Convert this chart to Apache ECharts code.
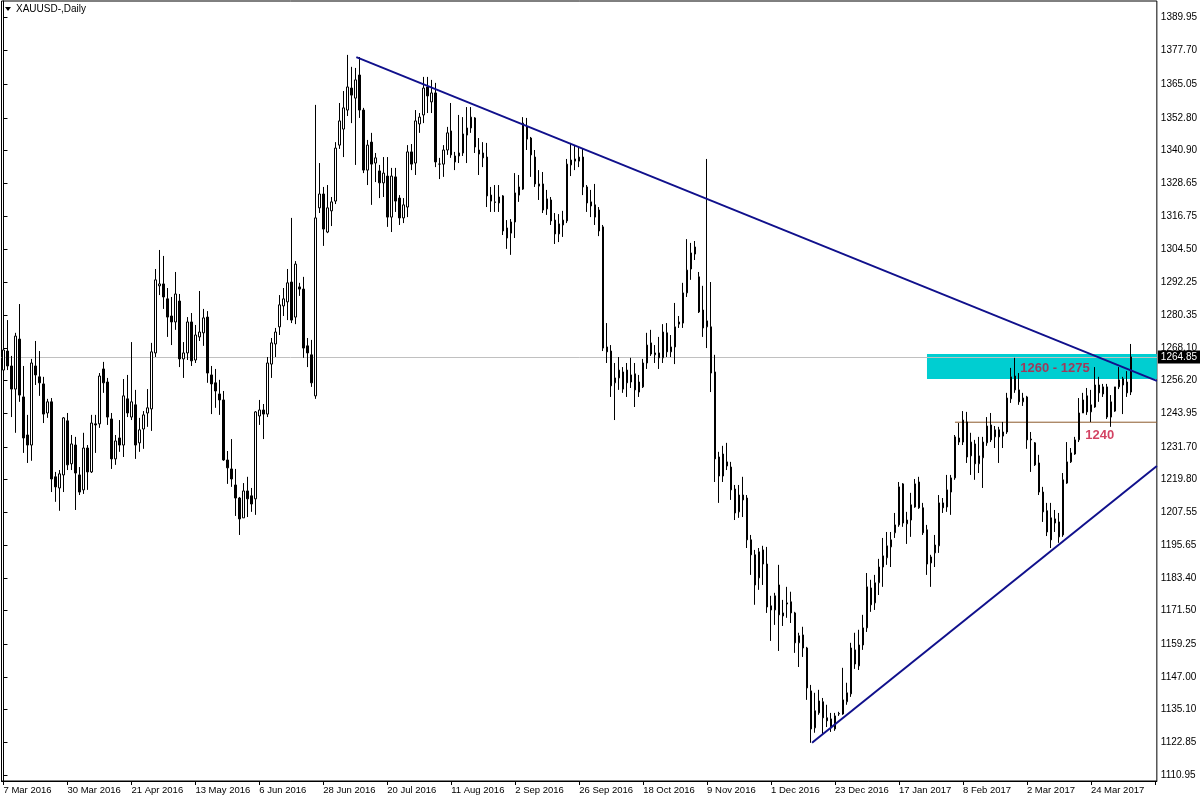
<!DOCTYPE html>
<html><head><meta charset="utf-8">
<script src="https://cdn.jsdelivr.net/npm/echarts@6/dist/echarts.min.js"></script>
<style>html,body{margin:0;padding:0;background:#fff}#c{width:1200px;height:800px}</style>
</head><body><div id="c"></div>
<script>
// ---- data (XAUUSD daily, 283 bars) ----
const opens=[1260.0,1267.0,1261.5,1253.0,1271.4,1250.1,1236.1,1232.4,1261.5,1257.5,
1254.9,1244.2,1248.3,1220.7,1216.6,1221.4,1241.3,1225.5,1232.4,1221.4,
1215.9,1231.3,1222.5,1240.2,1240.2,1260.4,1255.6,1242.0,1227.3,1235.0,
1232.4,1249.4,1242.7,1247.2,1233.2,1238.3,1244.2,1245.7,1266.3,1291.0,
1291.7,1286.2,1279.9,1277.7,1285.4,1264.1,1266.3,1277.7,1263.7,1272.2,
1273.7,1279.5,1258.2,1255.3,1251.2,1249.0,1226.9,1223.6,1217.7,1212.9,
1205.6,1215.5,1213.7,1212.6,1243.1,1245.3,1243.8,1262.2,1269.6,1275.9,
1283.6,1285.1,1292.4,1279.5,1290.6,1289.8,1268.9,1265.6,1250.5,1319.7,
1324.8,1310.8,1318.6,1322.2,1342.8,1348.7,1355.7,1363.8,1360.1,1368.6,
1355.7,1333.6,1343.9,1336.2,1333.3,1328.9,1331.4,1316.3,1331.1,1323.3,
1316.0,1320.0,1340.3,1336.2,1350.6,1353.9,1364.2,1358.7,1362.0,1335.8,
1335.8,1341.0,1348.0,1338.8,1338.8,1339.9,1346.5,1349.1,1352.8,1341.0,
1339.9,1338.4,1324.4,1321.9,1321.5,1324.1,1312.3,1310.4,1314.5,1324.4,
1326.6,1349.5,1345.4,1338.4,1328.5,1328.5,1319.3,1322.6,1315.2,1310.1,
1313.4,1314.9,1335.5,1336.9,1336.9,1338.4,1327.4,1321.9,1320.8,1318.9,
1312.7,1268.5,1267.0,1255.3,1257.1,1259.3,1260.0,1255.6,1258.6,1251.9,
1253.8,1262.6,1270.0,1265.6,1266.3,1264.5,1273.7,1266.7,1268.5,1276.9,
1277.3,1288.4,1297.2,1302.7,1294.3,1282.1,1275.9,1275.9,1259.3,1228.0,
1221.0,1226.2,1224.3,1216.2,1207.8,1214.0,1212.9,1197.5,1192.0,1183.5,
1193.8,1188.6,1173.2,1171.7,1180.9,1170.6,1174.3,1174.7,1170.6,1159.6,
1162.5,1157.7,1141.9,1128.3,1133.8,1137.9,1132.0,1131.6,1127.9,1133.4,
1133.4,1137.9,1140.8,1157.0,1151.1,1158.8,1165.1,1179.8,1174.3,1181.7,
1187.5,1190.9,1194.9,1200.1,1203.0,1218.1,1203.4,1204.8,1209.6,1218.8,
1209.3,1201.2,1189.0,1192.7,1195.3,1211.1,1209.6,1215.1,1220.3,1235.0,
1233.5,1240.9,1228.4,1232.8,1225.5,1227.7,1233.2,1239.8,1235.4,1238.0,
1235.7,1237.2,1249.4,1257.8,1252.7,1248.3,1250.1,1234.6,1233.2,1225.8,
1215.1,1208.2,1205.6,1205.2,1204.1,1199.3,1218.4,1226.2,1229.1,1234.3,
1244.2,1250.5,1244.6,1246.4,1254.5,1251.2,1253.8,1242.7,1244.9,1253.8,
1254.5,1255.6,1251.9];
const closes=[1267.4,1261.5,1253.0,1272.5,1250.8,1235.0,1232.4,1262.6,1258.2,1255.3,
1243.8,1248.3,1219.9,1217.0,1221.8,1242.4,1225.1,1232.8,1222.1,1215.1,
1231.3,1222.5,1240.5,1239.8,1257.8,1255.3,1242.7,1227.3,1233.9,1232.4,
1250.5,1244.2,1248.3,1232.4,1238.0,1243.5,1246.1,1266.7,1293.2,1291.7,
1286.9,1279.5,1277.7,1288.0,1264.1,1266.3,1277.7,1263.4,1272.9,1274.0,
1279.2,1258.9,1254.9,1252.3,1249.0,1226.9,1224.0,1219.9,1212.9,1205.2,
1215.5,1212.6,1210.7,1244.6,1245.3,1243.8,1262.6,1270.0,1274.0,1284.0,
1286.2,1292.1,1278.4,1299.0,1289.8,1268.1,1266.3,1255.3,1316.0,1324.8,
1311.9,1319.7,1321.9,1341.7,1351.7,1356.5,1364.2,1361.2,1366.8,1355.7,
1333.6,1342.8,1335.8,1338.1,1328.9,1332.5,1316.3,1331.4,1322.2,1316.0,
1320.8,1340.3,1335.8,1351.7,1353.1,1363.8,1360.9,1362.0,1336.6,1335.8,
1341.0,1347.3,1339.2,1336.6,1339.9,1346.9,1349.1,1353.1,1342.1,1339.5,
1338.1,1324.1,1322.2,1321.7,1323.7,1311.2,1308.6,1314.5,1325.2,1327.4,
1350.9,1345.0,1339.2,1328.5,1327.7,1318.9,1323.0,1314.9,1310.1,1313.8,
1315.2,1335.8,1337.3,1337.7,1338.4,1327.4,1321.5,1320.4,1316.3,1311.2,
1268.1,1266.7,1254.2,1257.1,1260.0,1253.0,1255.3,1258.2,1252.7,1255.6,
1262.6,1269.2,1265.9,1266.3,1264.5,1274.0,1266.7,1268.5,1275.9,1277.7,
1288.4,1296.8,1303.1,1305.3,1281.4,1275.5,1278.1,1258.9,1227.3,1221.0,
1229.1,1224.7,1215.9,1207.4,1214.0,1212.2,1197.5,1192.0,1180.9,1193.1,
1188.6,1172.8,1171.7,1176.9,1169.9,1169.5,1173.9,1170.6,1159.6,1162.2,
1157.7,1143.0,1127.9,1134.6,1138.2,1132.0,1130.9,1128.3,1132.7,1133.6,
1138.6,1141.2,1157.7,1151.8,1158.8,1165.1,1180.2,1173.6,1181.7,1187.5,
1191.6,1195.3,1197.5,1203.0,1217.0,1203.7,1204.8,1210.4,1218.1,1209.3,
1200.1,1188.6,1191.2,1195.6,1211.1,1209.3,1215.9,1220.3,1235.4,1233.5,
1241.6,1228.0,1233.5,1225.5,1228.4,1233.5,1239.4,1234.3,1238.0,1235.4,
1237.2,1249.7,1257.5,1252.7,1248.3,1249.7,1234.3,1234.3,1225.1,1215.1,
1207.8,1200.4,1197.5,1203.7,1198.6,1219.6,1226.2,1229.5,1234.3,1244.2,
1249.0,1244.6,1247.2,1254.5,1251.6,1253.8,1242.7,1248.3,1253.8,1256.4,
1256.8,1251.6,1264.85];
const lows=[1257.1,1260.0,1242.7,1236.9,1248.3,1229.5,1225.8,1226.6,1254.5,1250.5,
1240.5,1242.4,1215.1,1211.5,1208.2,1215.1,1223.2,1223.2,1208.5,1214.0,
1214.4,1215.9,1222.1,1229.5,1238.7,1251.6,1239.8,1223.6,1225.1,1229.9,
1228.0,1242.7,1241.6,1227.3,1229.9,1231.0,1239.1,1237.6,1264.8,1287.6,
1282.5,1272.2,1269.2,1274.8,1261.1,1257.1,1263.7,1261.5,1262.6,1270.7,
1268.9,1255.3,1243.8,1246.1,1243.5,1226.6,1218.1,1217.0,1206.3,1199.3,
1205.6,1205.9,1207.8,1206.7,1239.8,1234.6,1242.7,1257.1,1264.8,1272.9,
1279.9,1278.4,1277.3,1276.9,1287.3,1264.5,1261.1,1253.8,1249.4,1317.8,
1305.7,1310.4,1313.0,1321.1,1341.4,1338.4,1353.5,1350.9,1335.5,1352.8,
1332.5,1328.1,1320.8,1329.2,1323.3,1323.7,1312.7,1310.8,1318.2,1313.4,
1314.1,1316.3,1333.6,1331.8,1347.3,1350.9,1354.6,1354.6,1334.7,1330.3,
1331.1,1339.2,1338.1,1333.6,1336.2,1338.8,1336.2,1347.3,1339.9,1331.8,
1334.7,1320.0,1318.2,1318.2,1318.2,1309.7,1304.6,1302.4,1308.6,1321.9,
1326.3,1341.0,1331.1,1327.4,1322.6,1317.8,1317.1,1313.4,1306.4,1307.1,
1309.0,1314.1,1331.4,1333.6,1334.7,1324.4,1318.2,1316.3,1313.4,1309.3,
1267.0,1262.6,1250.1,1241.6,1252.7,1251.6,1250.1,1253.4,1246.4,1250.1,
1253.4,1260.4,1265.2,1262.6,1260.4,1262.6,1264.8,1264.8,1262.2,1275.5,
1275.5,1286.9,1293.2,1300.5,1281.0,1272.2,1268.1,1251.9,1218.8,1211.1,
1218.8,1223.2,1212.2,1204.8,1205.6,1205.9,1194.5,1184.6,1173.6,1179.1,
1180.9,1170.6,1160.3,1166.2,1156.6,1165.8,1168.8,1166.9,1155.9,1150.7,
1154.4,1138.6,1122.8,1126.5,1133.1,1125.7,1128.6,1126.8,1127.2,1132.7,
1133.1,1136.8,1139.7,1150.0,1149.6,1157.0,1163.6,1171.0,1171.7,1177.2,
1180.2,1188.3,1187.5,1198.2,1202.3,1202.3,1196.0,1198.6,1209.3,1208.9,
1199.3,1184.6,1180.2,1187.5,1192.7,1207.4,1207.8,1206.7,1219.6,1232.4,
1232.4,1225.8,1221.4,1219.6,1222.1,1216.6,1232.1,1233.5,1231.3,1225.8,
1231.3,1236.5,1247.9,1251.6,1247.2,1246.8,1231.0,1222.5,1224.7,1214.0,
1204.1,1198.9,1194.5,1200.4,1196.4,1198.6,1218.1,1225.8,1228.8,1233.5,
1244.2,1243.5,1240.9,1246.1,1248.3,1250.1,1242.0,1239.1,1244.6,1253.0,
1243.8,1250.1,1250.8];
const highs=[1273.7,1278.4,1265.2,1273.7,1284.3,1261.5,1243.5,1264.1,1270.7,1267.0,
1257.5,1249.4,1249.7,1222.5,1223.2,1242.7,1244.2,1236.1,1235.4,1224.3,
1236.9,1232.4,1243.5,1243.5,1258.9,1263.0,1257.1,1244.2,1236.1,1241.6,
1256.7,1258.2,1270.3,1252.7,1242.4,1244.9,1253.0,1270.0,1297.2,1304.2,
1302.0,1290.2,1286.9,1296.1,1288.0,1270.3,1279.5,1281.0,1276.6,1289.1,
1282.5,1281.7,1261.5,1260.4,1256.4,1252.3,1230.2,1234.6,1223.6,1213.3,
1218.4,1220.7,1216.6,1244.9,1249.0,1247.5,1264.8,1271.8,1275.5,1287.6,
1290.2,1297.2,1316.0,1300.1,1292.1,1294.3,1271.8,1271.1,1357.6,1336.2,
1327.4,1328.1,1323.7,1343.9,1358.3,1362.7,1376.0,1371.6,1371.2,1375.2,
1356.5,1344.7,1347.3,1339.9,1335.5,1338.4,1338.4,1334.4,1334.4,1324.4,
1323.3,1342.8,1343.2,1355.7,1354.6,1367.9,1367.9,1366.8,1365.7,1338.1,
1342.8,1349.5,1358.3,1340.3,1353.9,1353.1,1356.8,1356.8,1353.1,1345.4,
1343.9,1343.6,1327.4,1328.1,1328.1,1324.4,1315.2,1315.6,1332.5,1331.8,
1353.1,1352.8,1345.8,1341.0,1333.6,1332.9,1326.3,1323.7,1317.8,1317.4,
1318.6,1337.7,1343.6,1342.8,1342.1,1341.7,1328.1,1326.3,1328.5,1320.0,
1313.4,1277.3,1269.2,1262.6,1264.8,1261.1,1262.6,1264.5,1262.6,1258.2,
1264.1,1273.7,1274.8,1269.2,1272.2,1276.9,1277.3,1272.9,1284.7,1279.9,
1292.1,1308.2,1306.8,1307.5,1296.1,1291.0,1337.7,1292.4,1265.6,1229.9,
1232.1,1233.2,1226.2,1217.7,1217.7,1220.7,1214.0,1199.3,1193.8,1194.5,
1195.3,1194.9,1176.9,1178.0,1188.3,1175.4,1180.2,1178.4,1171.0,1163.3,
1165.5,1158.1,1144.1,1141.2,1142.3,1139.3,1136.8,1133.8,1133.8,1134.2,
1150.4,1144.9,1159.6,1163.3,1164.4,1169.9,1185.3,1182.8,1184.6,1190.5,
1198.2,1200.4,1200.4,1207.4,1218.8,1218.4,1207.8,1214.8,1219.9,1220.7,
1211.1,1203.0,1192.0,1199.3,1214.0,1212.9,1221.4,1221.4,1236.1,1240.5,
1244.9,1244.6,1236.9,1234.3,1235.4,1235.4,1242.7,1244.2,1239.4,1239.1,
1240.9,1251.6,1260.8,1264.5,1258.9,1251.6,1250.5,1237.2,1233.5,1228.8,
1217.0,1211.1,1211.1,1208.5,1207.4,1222.1,1233.5,1231.3,1235.4,1249.7,
1251.6,1253.4,1252.7,1261.1,1257.5,1254.9,1254.9,1250.8,1253.8,1261.1,
1257.5,1259.6,1269.6];

const tickLabels=['7 Mar 2016','30 Mar 2016','21 Apr 2016','13 May 2016','6 Jun 2016','28 Jun 2016',
'20 Jul 2016','11 Aug 2016','2 Sep 2016','26 Sep 2016','18 Oct 2016','9 Nov 2016','1 Dec 2016',
'23 Dec 2016','17 Jan 2017','8 Feb 2017','2 Mar 2017','24 Mar 2017'];
const priceTicks=[1389.95,1377.70,1365.05,1352.80,1340.90,1328.65,1316.75,1304.50,1292.25,1280.35,
1268.10,1256.20,1243.95,1231.70,1219.80,1207.55,1195.65,1183.40,1171.50,1159.25,1147.00,1135.10,
1122.85,1110.95];
const lastPrice=1264.85;
// annotations (bar index, price)
const resistanceLine=[[88.25,1375.2],[288.5,1256.0]];
const supportLine=[[202.25,1122.8],[288.5,1224.7]];
const zoneStart=231, zoneLow=1256.7, zoneHigh=1265.9, zoneText='1260 - 1275';
const level=[[238,1240.8],[288.5,1240.8]], levelText='1240';
const textMarks=[[263,1260.6,zoneText],[274.2,1235.8,levelText]];

const BAR_SLOTS=289;
const categories=[];
for(let i=0;i<BAR_SLOTS;i++) categories.push(String(i));
const ohlc=opens.map((o,i)=>[o,closes[i],lows[i],highs[i]]);

const FONT='Liberation Sans';
const chart=echarts.init(document.getElementById('c'),null,{renderer:'canvas'});
chart.setOption({
  animation:false,
  backgroundColor:'#ffffff',
  grid:{left:1.5,right:42.5,top:1,bottom:19,show:true,borderColor:'#000',borderWidth:1,backgroundColor:'#fff'},
  xAxis:[{
    type:'category',data:categories,boundaryGap:true,
    axisLine:{show:true,lineStyle:{color:'#000',width:1}},
    axisTick:{show:true,interval:15,alignWithLabel:true,length:4,lineStyle:{color:'#000'}},
    axisLabel:{interval:15,align:'left',margin:4,color:'#000',fontFamily:FONT,fontSize:9.5,
      formatter:(v,i)=>tickLabels[Math.round(i/16)]||''},
    splitLine:{show:false}
  },{
    type:'value',min:-0.5,max:BAR_SLOTS-0.5,show:false
  }],
  yAxis:{
    type:'value',position:'right',min:1108.74,max:1395.84,scale:true,
    axisLine:{show:true,lineStyle:{color:'#000'}},
    axisTick:{show:true,length:4,customValues:priceTicks,lineStyle:{color:'#000'}},
    axisLabel:{customValues:priceTicks,margin:4,color:'#000',fontFamily:FONT,fontSize:10,
      formatter:v=>v.toFixed(2)},
    splitLine:{show:false}
  },
  graphic:[
    {type:'polygon',shape:{points:[[5,7],[11,7],[8,11]]},style:{fill:'#000'},z:100},
    {type:'text',left:16,top:4,style:{text:'XAUUSD-,Daily',fill:'#000',font:'10px '+FONT},z:100}
  ],
  series:[
    {type:'line',xAxisIndex:1,data:[],symbol:'none',silent:true,z:1,
      markArea:{silent:true,itemStyle:{color:'#00CED1'},
        data:[[{xAxis:zoneStart,yAxis:zoneLow},{xAxis:BAR_SLOTS-0.5,yAxis:zoneHigh}]]}},
    {type:'line',xAxisIndex:1,data:level,symbol:'none',silent:true,z:2,
      lineStyle:{color:'#8B5A2B',width:1}},
    {type:'candlestick',data:ohlc,barWidth:2,z:5,
      itemStyle:{color:'#ffffff',color0:'#000000',borderColor:'#000000',borderColor0:'#000000',borderWidth:1},
      markLine:{silent:true,symbol:'none',
        lineStyle:{color:'#c0c0c0',width:1,type:'solid'},
        label:{show:true,position:'end',distance:1,formatter:()=>lastPrice.toFixed(2),
          backgroundColor:'#000',color:'#fff',fontFamily:FONT,fontSize:10,padding:[2,3,1,3]},
        data:[{yAxis:lastPrice}]}},
    {type:'line',xAxisIndex:1,data:resistanceLine,symbol:'none',silent:true,z:6,
      lineStyle:{color:'#10108C',width:2}},
    {type:'line',xAxisIndex:1,data:supportLine,symbol:'none',silent:true,z:6,
      lineStyle:{color:'#10108C',width:2}},
    {type:'scatter',xAxisIndex:1,data:textMarks,symbolSize:1,silent:true,z:7,
      itemStyle:{color:'rgba(0,0,0,0)'},
      label:{show:true,position:'inside',formatter:p=>p.data[2],color:'#C8143C',
        fontFamily:'Liberation Sans',fontSize:13,fontWeight:'bold'}}
  ]
});
</script></body></html>
